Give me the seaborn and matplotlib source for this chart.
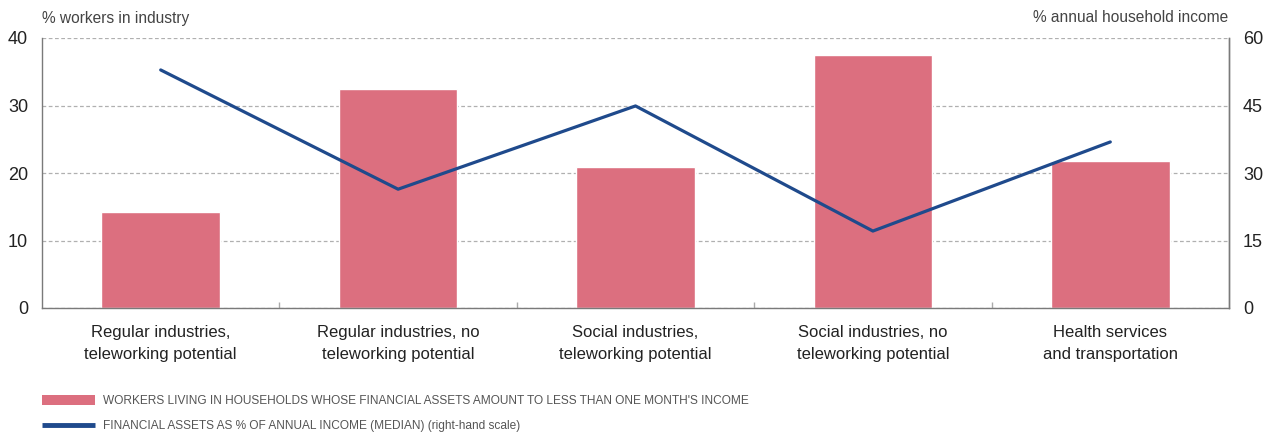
import numpy as np
import pandas as pd
import seaborn as sns
import matplotlib.pyplot as plt
from matplotlib.patches import Patch
from matplotlib.lines import Line2D
from matplotlib.ticker import FixedLocator

# ---- data ----
categories = [
    "Regular industries,\nteleworking potential",
    "Regular industries, no\nteleworking potential",
    "Social industries,\nteleworking potential",
    "Social industries, no\nteleworking potential",
    "Health services\nand transportation",
]
workers_pct = [14.2, 32.4, 20.9, 37.5, 21.8]
assets_pct = [52.9, 26.4, 44.9, 17.1, 36.9]

bar_label = "WORKERS LIVING IN HOUSEHOLDS WHOSE FINANCIAL ASSETS AMOUNT TO LESS THAN ONE MONTH'S INCOME"
line_label = "FINANCIAL ASSETS AS % OF ANNUAL INCOME (MEDIAN) (right-hand scale)"

BAR_COLOR = "#dc6f7f"
LINE_COLOR = "#1f4a8c"
AXIS_COLOR = "#7a7a7a"
TEXT_COLOR = "#222222"

sns.set_style("white")
plt.rcParams["font.family"] = ["Liberation Sans", "DejaVu Sans"]

df = pd.DataFrame({"cat": categories, "workers": workers_pct, "assets": assets_pct})

fig = plt.figure(figsize=(12.64, 4.32), dpi=100)
ax = fig.add_axes([42 / 1264, 1 - 308 / 432, (1229 - 42) / 1264, 270 / 432])

sns.barplot(data=df, x="cat", y="workers", color=BAR_COLOR, width=0.5,
            saturation=1, ax=ax, zorder=2)

ax2 = ax.twinx()
sns.pointplot(data=df, x="cat", y="assets", color=LINE_COLOR, marker="",
              linestyle="-", linewidth=2.3, ax=ax2)

ax.set_xlim(-0.5, len(categories) - 0.5)
ax2.set_xlim(-0.5, len(categories) - 0.5)
ax.set_ylim(0, 40)
ax2.set_ylim(0, 60)
ax.set_yticks([0, 10, 20, 30, 40])
ax2.set_yticks([0, 15, 30, 45, 60])

ax.yaxis.grid(True, linestyle=(0, (3, 2)), color="#b0b0b0", linewidth=0.9)
ax.set_axisbelow(True)

for a in (ax, ax2):
    a.set_xlabel("")
    a.set_ylabel("")
    a.spines["top"].set_visible(False)
    for s in ("left", "right", "bottom"):
        a.spines[s].set_color(AXIS_COLOR)
        a.spines[s].set_linewidth(1.0)

ax.spines["right"].set_visible(True)
ax2.spines["left"].set_visible(False)
ax2.spines["bottom"].set_visible(False)

ax.tick_params(axis="y", length=0, labelsize=13, labelcolor=TEXT_COLOR, pad=10)
ax2.tick_params(axis="y", length=0, labelsize=13, labelcolor=TEXT_COLOR, pad=10)
ax.tick_params(axis="x", which="major", length=0, labelsize=12, labelcolor=TEXT_COLOR, pad=12)
for t in ax.get_xticklabels():
    t.set_linespacing(1.6)
ax.xaxis.set_minor_locator(FixedLocator([0.5, 1.5, 2.5, 3.5]))
ax.tick_params(axis="x", which="minor", bottom=True, direction="in", length=4,
               width=1, color="#aaaaaa")
ax2.tick_params(axis="x", length=0, labelbottom=False)

fig.text(42 / 1264, 1 - 18 / 432, "% workers in industry", fontsize=11.2,
         color="#444444", ha="left", va="center")
fig.text(1228 / 1264, 1 - 18 / 432, "% annual household income", fontsize=11.2,
         color="#444444", ha="right", va="center")

handles = [Patch(facecolor=BAR_COLOR, edgecolor="none"),
           Line2D([0], [0], color=LINE_COLOR, linewidth=3.5, solid_capstyle="butt")]
leg = fig.legend(handles, [bar_label, line_label], loc="upper left",
                 bbox_to_anchor=(42 / 1264, 1 - 395 / 432), frameon=False,
                 fontsize=8.6, handlelength=4.4, handleheight=0.9,
                 handletextpad=0.7, labelspacing=1.1, borderaxespad=0, borderpad=0)
for t in leg.get_texts():
    t.set_color("#555555")

fig.savefig("out.png", dpi=100)
